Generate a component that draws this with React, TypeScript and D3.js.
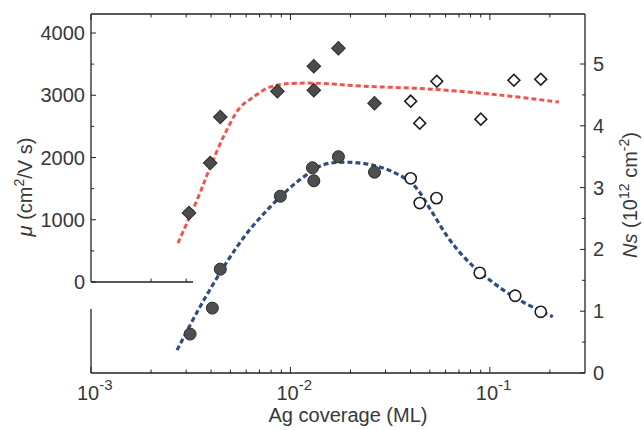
import React from 'react';
import * as d3 from 'd3';

// mobility (left axis), filled = low coverage, open = high coverage
const muFilledX = [0.0031, 0.00396, 0.00445, 0.0086, 0.0131, 0.0131, 0.0174, 0.0264];
const muFilled = [1107, 1910, 2650, 3066, 3467, 3082, 3756, 2873];
const muOpenX = [0.0401, 0.0445, 0.0542, 0.0901, 0.132, 0.18];
const muOpen = [2905, 2552, 3226, 2616, 3242, 3258];

// sheet carrier density (right axis)
const nsFilledX = [0.00314, 0.00406, 0.00445, 0.0089, 0.0129, 0.0131, 0.0174, 0.0264];
const nsFilled = [0.63, 1.05, 1.68, 2.86, 3.32, 3.11, 3.5, 3.25];
const nsOpenX = [0.0401, 0.0445, 0.054, 0.089, 0.134, 0.18];
const nsOpen = [3.15, 2.75, 2.83, 1.62, 1.25, 0.99];

// guide curves
const muFitX = [0.00273, 0.00345, 0.00396, 0.00471, 0.00561, 0.00652, 0.00766, 0.00922, 0.0131, 0.0233, 0.0506, 0.1135, 0.222];
const muFit = [626, 1364, 1846, 2392, 2809, 2970, 3114, 3178, 3194, 3146, 3098, 3002, 2890];
const nsFitX = [0.0027, 0.00341, 0.0043, 0.00499, 0.00608, 0.00766, 0.00966, 0.01161, 0.01465, 0.0193, 0.0252, 0.0329, 0.0415, 0.0505, 0.0615, 0.074, 0.0901, 0.132, 0.207];
const nsFit = [0.37, 0.99, 1.55, 1.88, 2.27, 2.64, 2.96, 3.17, 3.37, 3.41, 3.37, 3.25, 3.04, 2.64, 2.2, 1.88, 1.62, 1.23, 0.91];

const muTicks = [0, 1000, 2000, 3000, 4000];
const nsTicks = [0, 1, 2, 3, 4, 5];
const xDecades = [-3, -2, -1];

const W = 644;
const H = 430;
const left = 91, right = 585, top = 14, bottom = 373;
const muZero = 282, lowerStart = 309, breakEnd = 193;

const font = 'Arial, "Liberation Sans", Helvetica, sans-serif';
const textCol = '#383838';
const axisCol = '#222';

export default function App() {
  const x = d3.scaleLog().domain([1e-3, 0.3]).range([left, right]);
  const yMu = d3.scaleLinear().domain([0, 4000]).range([muZero, 33]);
  const yNs = d3.scaleLinear().domain([0, 5]).range([bottom, 64]);

  const minorX = d3.range(-3, 0).flatMap(e => d3.range(1, 10).map(k => k * Math.pow(10, e))).filter(v => v <= 0.3);

  const muLine = d3.line<number>().x((d, i) => x(muFitX[i])).y(d => yMu(d)).curve(d3.curveCatmullRom);
  const nsLine = d3.line<number>().x((d, i) => x(nsFitX[i])).y(d => yNs(d)).curve(d3.curveCatmullRom);

  const diamond = d3.symbol(d3.symbolSquare, 92)();
  const openDiamond = d3.symbol(d3.symbolSquare, 70)();

  return (
    <svg width={W} height={H} style={{ position: 'absolute', left: 0, top: 0, background: '#fff' }} fontFamily={font}>
      {/* frame */}
      <g stroke={axisCol} strokeWidth={1.3} fill="none">
        <line x1={left} x2={right} y1={top} y2={top} />
        <line x1={left} x2={right} y1={bottom} y2={bottom} />
        <line x1={right} x2={right} y1={top} y2={bottom} />
        <line x1={left} x2={left} y1={top} y2={muZero} />
        <line x1={left} x2={breakEnd} y1={muZero} y2={muZero} />
        <line x1={left} x2={left} y1={lowerStart} y2={bottom} />
      </g>

      {/* x ticks top & bottom */}
      <g stroke={axisCol} strokeWidth={1}>
        {minorX.map(v => {
          const major = Math.abs(Math.log10(v) - Math.round(Math.log10(v))) < 1e-9;
          const len = major ? 6 : 3.5;
          return (
            <g key={v}>
              <line x1={x(v)} x2={x(v)} y1={bottom} y2={bottom - len} />
              <line x1={x(v)} x2={x(v)} y1={top} y2={top + len} />
            </g>
          );
        })}
        {minorX.filter(v => x(v) > left + 1 && x(v) < breakEnd).map(v => (
          <line key={'b' + v} x1={x(v)} x2={x(v)} y1={muZero} y2={muZero - 3.5} />
        ))}
      </g>

      {/* y ticks */}
      <g stroke={axisCol} strokeWidth={1}>
        {d3.range(0, 4001, 500).map(v => (
          <line key={v} x1={left} x2={left + (v % 1000 === 0 ? 5 : 3)} y1={yMu(v)} y2={yMu(v)} />
        ))}
        {d3.range(0, 5.01, 0.5).map(v => (
          <line key={'r' + v} x1={right} x2={right - (v % 1 === 0 ? 5 : 3)} y1={yNs(v)} y2={yNs(v)} />
        ))}
      </g>

      <g fill={textCol} fontSize={20}>
        {muTicks.map(v => (
          <text key={v} x={85} y={yMu(v)} dy="0.35em" textAnchor="end">{v}</text>
        ))}
        {nsTicks.map(v => (
          <text key={v} x={593} y={yNs(v)} dy="0.35em">{v}</text>
        ))}
        {xDecades.map(e => (
          <text key={e} x={x(Math.pow(10, e)) - 14} y={400}>
            10<tspan fontSize={15} dy={-10}>{e}</tspan>
          </text>
        ))}
        <text x={348} y={422} textAnchor="middle">Ag coverage (ML)</text>
        <text transform="translate(32,187) rotate(-90)" textAnchor="middle">
          <tspan fontStyle="italic">μ</tspan> (cm<tspan fontSize={14} dy={-8}>2</tspan><tspan dy={8}>/V s)</tspan>
        </text>
        <text transform="translate(637,195) rotate(-90)" textAnchor="middle">
          <tspan fontStyle="italic">Ns</tspan> (10<tspan fontSize={14} dy={-8}>12</tspan><tspan dy={8}> cm</tspan><tspan fontSize={14} dy={-8}>-2</tspan><tspan dy={8}>)</tspan>
        </text>
      </g>

      {/* guide curves */}
      <path d={muLine(muFit) || ''} fill="none" stroke="#ef5550" strokeWidth={3} strokeDasharray="5 3" />
      <path d={nsLine(nsFit) || ''} fill="none" stroke="#2f4d7e" strokeWidth={3.2} strokeDasharray="5 3" />

      {/* markers */}
      {muFilled.map((v, i) => (
        <path key={'mf' + i} d={diamond || ''} transform={`translate(${x(muFilledX[i])},${yMu(v)}) rotate(45)`}
          fill="#4c4c4c" stroke="#2a2a2a" strokeWidth={1} />
      ))}
      {muOpen.map((v, i) => (
        <path key={'mo' + i} d={openDiamond || ''} transform={`translate(${x(muOpenX[i])},${yMu(v)}) rotate(45)`}
          fill="#fff" stroke="#1e1e1e" strokeWidth={1.6} />
      ))}
      {nsFilled.map((v, i) => (
        <circle key={'nf' + i} cx={x(nsFilledX[i])} cy={yNs(v)} r={6} fill="#4f4f4f" stroke="#2a2a2a" strokeWidth={1} />
      ))}
      {nsOpen.map((v, i) => (
        <circle key={'no' + i} cx={x(nsOpenX[i])} cy={yNs(v)} r={5.6} fill="#fff" stroke="#1e1e1e" strokeWidth={1.6} />
      ))}
    </svg>
  );
}
